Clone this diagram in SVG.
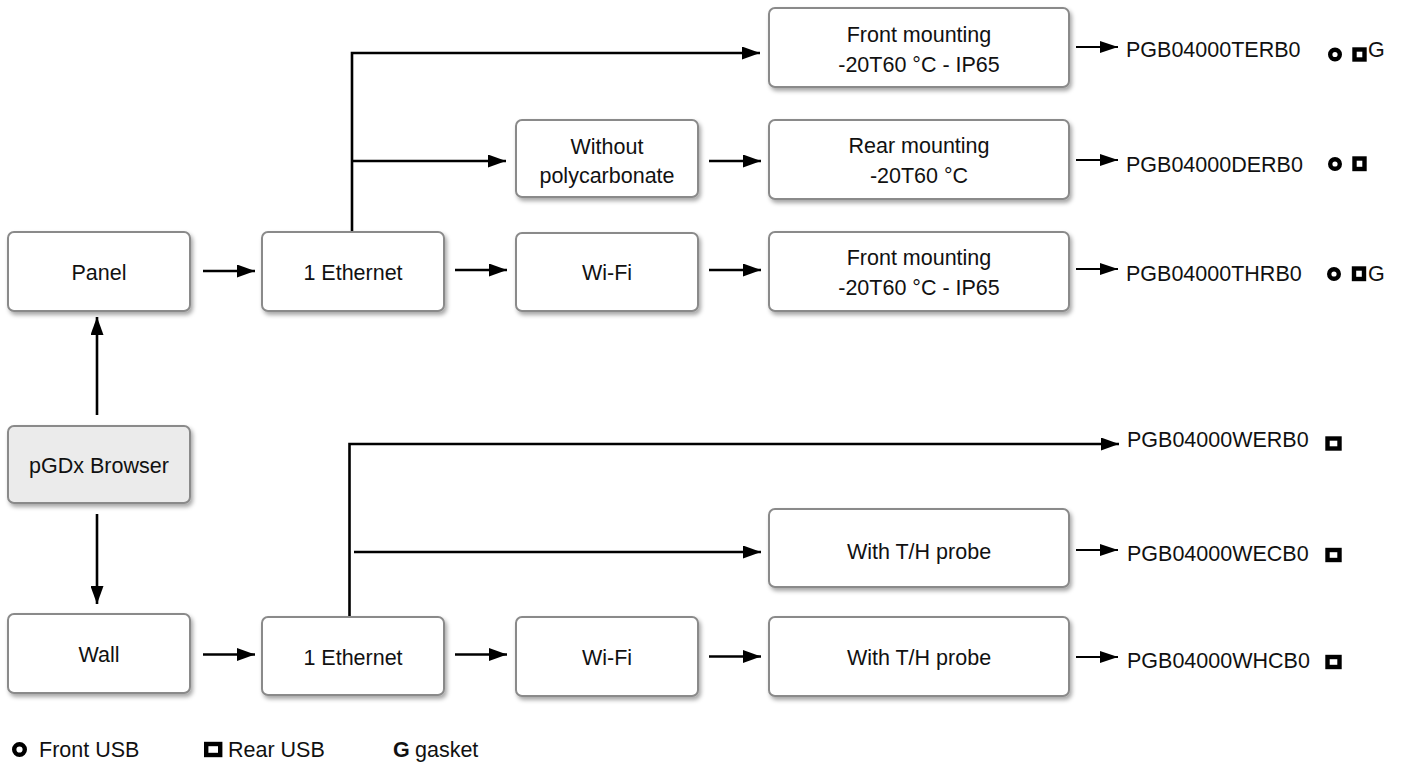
<svg xmlns="http://www.w3.org/2000/svg" width="1407" height="762" viewBox="0 0 1407 762">
<defs>
<filter id="sh" x="-10%" y="-10%" width="130%" height="150%">
<feDropShadow dx="2" dy="3" stdDeviation="2" flood-color="#000" flood-opacity="0.35"/>
</filter>
<marker id="ah" markerUnits="userSpaceOnUse" markerWidth="18" markerHeight="13" refX="18" refY="6.5" orient="auto" viewBox="0 0 18 13">
<path d="M0,0 L18,6.5 L0,13 z" fill="#000"/>
</marker>
<marker id="ahs" markerUnits="userSpaceOnUse" markerWidth="18" markerHeight="12" refX="18" refY="6" orient="auto" viewBox="0 0 18 12">
<path d="M0,0 L18,6 L0,12 z" fill="#000"/>
</marker>
</defs>
<style>
.box{fill:#fff;stroke:#8a8a8a;stroke-width:2;filter:url(#sh)}
.grey{fill:#ebebeb}
.t{font-family:"Liberation Sans",Arial,sans-serif;font-size:21.5px;fill:#111}
.c{text-anchor:middle}
.ln{fill:none;stroke:#000;stroke-width:2.6}
.la{marker-end:url(#ah)}
.lc{fill:none;stroke:#000;stroke-width:2.2;marker-end:url(#ahs)}
.sym{fill:none;stroke:#000;stroke-width:4.4}
.b{font-weight:bold}
</style>
<rect width="1407" height="762" fill="#fff"/>

<g id="connectors">
<line class="ln la" x1="97" y1="415" x2="97" y2="317"/>
<line class="ln la" x1="97" y1="514" x2="97" y2="604"/>
<line class="ln la" x1="203" y1="271" x2="255" y2="271"/>
<line class="ln la" x1="455" y1="270" x2="507" y2="270"/>
<line class="ln la" x1="709" y1="270" x2="761" y2="270"/>
<polyline class="ln la" points="352,232 352,53 760,53"/>
<line class="ln la" x1="352" y1="161" x2="506" y2="161"/>
<line class="ln la" x1="709" y1="161" x2="761" y2="161"/>
<line class="lc" x1="1076" y1="47" x2="1118" y2="47"/>
<line class="lc" x1="1076" y1="160" x2="1118" y2="160"/>
<line class="lc" x1="1076" y1="269" x2="1118" y2="269"/>
<polyline class="ln la" points="349.5,616 349.5,444 1119,444"/>
<line class="ln la" x1="354" y1="552" x2="761" y2="552"/>
<line class="ln la" x1="203" y1="654.5" x2="255" y2="654.5"/>
<line class="ln la" x1="455" y1="654.5" x2="507" y2="654.5"/>
<line class="ln la" x1="709" y1="656.5" x2="761" y2="656.5"/>
<line class="lc" x1="1076" y1="550" x2="1118" y2="550"/>
<line class="lc" x1="1076" y1="657" x2="1118" y2="657"/>
</g>

<g id="panel"><rect class="box" x="8" y="232" width="182" height="79" rx="6"/><text class="t c" x="99" y="280">Panel</text></g>
<g id="browser"><rect class="box grey" x="8" y="426" width="182" height="77" rx="6"/><text class="t c" x="99" y="473">pGDx Browser</text></g>
<g id="wall"><rect class="box" x="8" y="614" width="182" height="79" rx="6"/><text class="t c" x="99" y="662">Wall</text></g>

<g id="eth1"><rect class="box" x="262" y="232" width="182" height="79" rx="6"/><text class="t c" x="353" y="280">1 Ethernet</text></g>
<g id="nopoly"><rect class="box" x="516" y="120" width="182" height="77" rx="6"/><text class="t c" x="607" y="154">Without</text><text class="t c" x="607" y="183">polycarbonate</text></g>
<g id="wifi1"><rect class="box" x="516" y="233" width="182" height="78" rx="6"/><text class="t c" x="607" y="280">Wi-Fi</text></g>

<g id="front1"><rect class="box" x="769" y="8" width="300" height="79" rx="6"/><text class="t c" x="919" y="42">Front mounting</text><text class="t c" x="919" y="72">-20T60 °C - IP65</text></g>
<g id="rear1"><rect class="box" x="769" y="120" width="300" height="79" rx="6"/><text class="t c" x="919" y="153">Rear mounting</text><text class="t c" x="919" y="183">-20T60 °C</text></g>
<g id="front2"><rect class="box" x="769" y="232" width="300" height="79" rx="6"/><text class="t c" x="919" y="265">Front mounting</text><text class="t c" x="919" y="295">-20T60 °C - IP65</text></g>

<g id="eth2"><rect class="box" x="262" y="617" width="182" height="78" rx="6"/><text class="t c" x="353" y="665">1 Ethernet</text></g>
<g id="wifi2"><rect class="box" x="516" y="617" width="182" height="79" rx="6"/><text class="t c" x="607" y="665">Wi-Fi</text></g>
<g id="probe1"><rect class="box" x="769" y="509" width="300" height="78" rx="6"/><text class="t c" x="919" y="559">With T/H probe</text></g>
<g id="probe2"><rect class="box" x="769" y="617" width="300" height="79" rx="6"/><text class="t c" x="919" y="665">With T/H probe</text></g>

<g id="code-terb0"><text class="t" x="1126" y="57">PGB04000TERB0</text><circle class="sym" cx="1335" cy="54.5" r="4.8"/><rect class="sym" x="1354.5" y="49.5" width="10" height="10"/><text class="t" x="1368" y="57">G</text></g>
<g id="code-derb0"><text class="t" x="1126" y="171.5">PGB04000DERB0</text><circle class="sym" cx="1335" cy="164" r="4.8"/><rect class="sym" x="1354.5" y="158.5" width="10" height="10.5"/></g>
<g id="code-thrb0"><text class="t" x="1126" y="280.5">PGB04000THRB0</text><circle class="sym" cx="1334" cy="274" r="4.8"/><rect class="sym" x="1354" y="268.5" width="10" height="10.5"/><text class="t" x="1368" y="280.5">G</text></g>
<g id="code-werb0"><text class="t" x="1127" y="446.5">PGB04000WERB0</text><rect class="sym" x="1327.5" y="438.5" width="12" height="10"/></g>
<g id="code-wecb0"><text class="t" x="1127" y="560.5">PGB04000WECB0</text><rect class="sym" x="1327.5" y="550" width="12" height="10"/></g>
<g id="code-whcb0"><text class="t" x="1127" y="668">PGB04000WHCB0</text><rect class="sym" x="1327.5" y="657" width="12" height="10"/></g>

<g id="legend">
<circle class="sym" cx="19.5" cy="749.5" r="5.3"/>
<text class="t" x="39" y="757">Front USB</text>
<rect class="sym" x="206.2" y="744" width="14" height="11"/>
<text class="t" x="228" y="757">Rear USB</text>
<text class="t b" x="393" y="757">G</text>
<text class="t" x="415" y="757">gasket</text>
</g>
</svg>
